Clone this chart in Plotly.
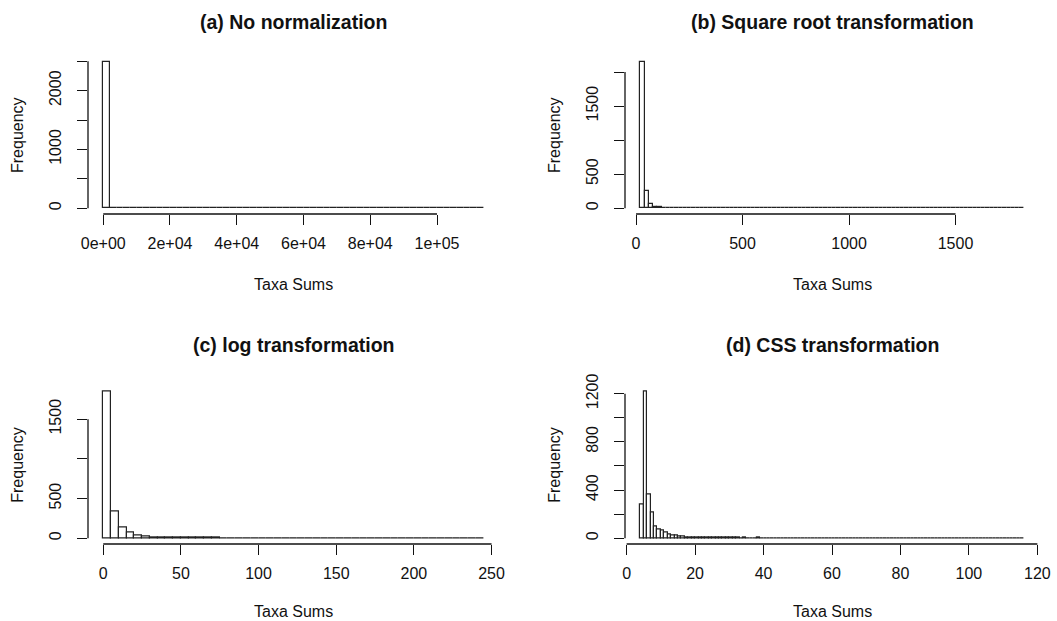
import plotly.graph_objects as go

# ---------------- data ----------------
titles = ["(a) No normalization", "(b) Square root transformation",
          "(c) log transformation", "(d) CSS transformation"]
x_title = "Taxa Sums"
y_title = "Frequency"

# (a) No normalization: breaks 0..114000 by 2000
start_a = 0
binw_a = 2000
counts_a = [2490, 6, 4, 2, 1, 1, 0, 1, 0, 0,
            1, 0, 0, 0, 0, 1, 0, 0, 0, 0,
            0, 0, 0, 0, 0, 0, 0, 0, 0, 0,
            0, 0, 0, 0, 0, 0, 0, 0, 0, 0,
            0, 0, 0, 0, 0, 0, 0, 0, 0, 0,
            0, 0, 0, 0, 0, 0, 1]
xticks_a = [0, 20000, 40000, 60000, 80000, 100000]
xlabels_a = ["0e+00", "2e+04", "4e+04", "6e+04", "8e+04", "1e+05"]
yticks_a = [0, 500, 1000, 1500, 2000, 2500]
ylabels_a = ["0", "", "1000", "", "2000", ""]

# (b) Square root transformation: breaks 20..1820 by 20
start_b = 20
binw_b = 20
counts_b = [2150, 250, 60, 22, 10, 6, 4, 3, 2, 2,
            1, 1, 1, 1, 0, 1, 0, 1, 0, 0,
            1, 0, 0, 0, 0, 0, 1, 0, 0, 0,
            0, 0, 0, 0, 1, 0, 0, 0, 0, 0,
            0, 0, 0, 0, 0, 0, 0, 0, 0, 0,
            0, 0, 0, 0, 0, 0, 0, 0, 0, 0,
            0, 0, 0, 0, 0, 0, 0, 0, 0, 0,
            0, 0, 0, 0, 0, 0, 0, 0, 0, 0,
            0, 0, 0, 0, 0, 0, 0, 0, 0, 1]
xticks_b = [0, 500, 1000, 1500]
xlabels_b = ["0", "500", "1000", "1500"]
yticks_b = [0, 500, 1000, 1500, 2000]
ylabels_b = ["0", "500", "", "1500", ""]

# (c) log transformation: breaks 0..245 by 5
start_c = 0
binw_c = 5
counts_c = [1850, 340, 140, 70, 30, 20, 14, 10, 7, 5,
            4, 3, 3, 2, 2, 1, 1, 1, 1, 0,
            1, 0, 0, 0, 1, 0, 0, 0, 0, 0,
            0, 0, 0, 0, 0, 0, 0, 0, 0, 0,
            0, 0, 0, 0, 0, 0, 0, 0, 1]
xticks_c = [0, 50, 100, 150, 200, 250]
xlabels_c = ["0", "50", "100", "150", "200", "250"]
yticks_c = [0, 500, 1000, 1500]
ylabels_c = ["0", "500", "", "1500"]

# (d) CSS transformation: breaks 4..116 by 1
start_d = 4
binw_d = 1
counts_d = [280, 1220, 365, 210, 100, 75, 60, 45, 32, 25,
            18, 14, 10, 9, 8, 7, 6, 5, 5, 4,
            4, 3, 3, 3, 2, 2, 3, 2, 2, 1,
            2, 1, 1, 1, 2, 1, 1, 1, 1, 1,
            0, 1, 0, 1, 0, 0, 1, 0, 0, 0,
            1, 0, 0, 0, 0, 1, 0, 0, 0, 0,
            0, 0, 0, 0, 0, 0, 0, 1, 0, 0,
            0, 0, 0, 0, 0, 0, 0, 0, 0, 0,
            0, 0, 0, 0, 0, 0, 0, 0, 0, 0,
            0, 0, 0, 0, 0, 0, 0, 0, 0, 0,
            0, 0, 0, 0, 0, 0, 0, 0, 0, 0,
            0, 1]
xticks_d = [0, 20, 40, 60, 80, 100, 120]
xlabels_d = ["0", "20", "40", "60", "80", "100", "120"]
yticks_d = [0, 200, 400, 600, 800, 1000, 1200]
ylabels_d = ["0", "", "400", "", "800", "", "1200"]

# ---------------- layout geometry ----------------
W, H = 1057, 621
xdoms = [[88 / W, 499 / W], [625 / W, 1039 / W]]
ydoms = [[1 - 214 / H, 1 - 56 / H], [1 - 544 / H, 1 - 385.5 / H]]
title_y = [1 - 22 / H, 1 - 345 / H]
xtitle_y = [1 - 284 / H, 0.0]
xtitle_anchor = ["middle", "bottom"]
ytitle_x = [18 / W, 555 / W]

FONT = "Liberation Sans, Arial, Helvetica, sans-serif"
INK = "#111111"

panels = [
    (start_a, binw_a, counts_a, xticks_a, xlabels_a, yticks_a, ylabels_a),
    (start_b, binw_b, counts_b, xticks_b, xlabels_b, yticks_b, ylabels_b),
    (start_c, binw_c, counts_c, xticks_c, xlabels_c, yticks_c, ylabels_c),
    (start_d, binw_d, counts_d, xticks_d, xlabels_d, yticks_d, ylabels_d),
]

fig = go.Figure()
layout = dict(width=W, height=H,
              margin=dict(l=0, r=0, t=0, b=0, pad=0, autoexpand=False),
              paper_bgcolor="white", plot_bgcolor="white",
              bargap=0, showlegend=False,
              font=dict(family=FONT, size=16, color=INK))
shapes = []
annotations = []

for i, (start, bw, counts, xt, xl, yt, yl) in enumerate(panels):
    row, col = i // 2, i % 2
    k = "" if i == 0 else str(i + 1)
    centers = [start + bw * (j + 0.5) for j in range(len(counts))]
    fig.add_trace(go.Bar(
        x=centers, y=counts, width=bw,
        marker=dict(color="white", line=dict(color="#222222", width=1.2)),
        xaxis="x" + k, yaxis="y" + k, hoverinfo="skip"))
    lo = start
    hi = start + bw * len(counts)
    ext = 0.04 * (hi - lo)
    ymax = max(counts)
    layout["xaxis" + k] = dict(
        domain=xdoms[col], anchor="y" + k, range=[lo - ext, hi + ext],
        tickmode="array", tickvals=xt, ticktext=xl,
        ticks="outside", ticklen=10, tickwidth=1.3, tickcolor=INK,
        showgrid=False, zeroline=False, showline=False, automargin=False,
        tickfont=dict(family=FONT, size=16, color=INK),
        ticklabelstandoff=5, fixedrange=True)
    layout["yaxis" + k] = dict(
        domain=ydoms[row], anchor="x" + k, range=[-0.04 * ymax, 1.04 * ymax],
        tickmode="array", tickvals=yt, ticktext=yl, tickangle=-90,
        ticks="outside", ticklen=10, tickwidth=1.3, tickcolor=INK,
        showgrid=False, zeroline=False, showline=False, automargin=False,
        tickfont=dict(family=FONT, size=16, color=INK),
        ticklabelstandoff=10, fixedrange=True)
    # R-style axis lines spanning first to last tick
    shapes.append(dict(type="line", xref="x" + k, yref="y" + k + " domain",
                       x0=xt[0], x1=xt[-1], y0=0, y1=0,
                       line=dict(color=INK, width=1.3)))
    shapes.append(dict(type="line", xref="x" + k + " domain", yref="y" + k,
                       x0=0, x1=0, y0=yt[0], y1=yt[-1],
                       line=dict(color=INK, width=1.3)))
    xc = (xdoms[col][0] + xdoms[col][1]) / 2
    yc = (ydoms[row][0] + ydoms[row][1]) / 2
    annotations.append(dict(text="<b>" + titles[i] + "</b>", xref="paper", yref="paper",
                            x=xc, y=title_y[row], xanchor="center", yanchor="middle",
                            showarrow=False, font=dict(family=FONT, size=19.5, color=INK)))
    annotations.append(dict(text=x_title, xref="paper", yref="paper",
                            x=xc, y=xtitle_y[row], xanchor="center",
                            yanchor=xtitle_anchor[row], borderpad=0,
                            showarrow=False, font=dict(family=FONT, size=16, color=INK)))
    annotations.append(dict(text=y_title, xref="paper", yref="paper", textangle=-90,
                            x=ytitle_x[col], y=yc, xanchor="center", yanchor="middle",
                            showarrow=False, font=dict(family=FONT, size=16, color=INK)))

layout["shapes"] = shapes
layout["annotations"] = annotations
fig.update_layout(**layout)
fig.write_html("out.html")
